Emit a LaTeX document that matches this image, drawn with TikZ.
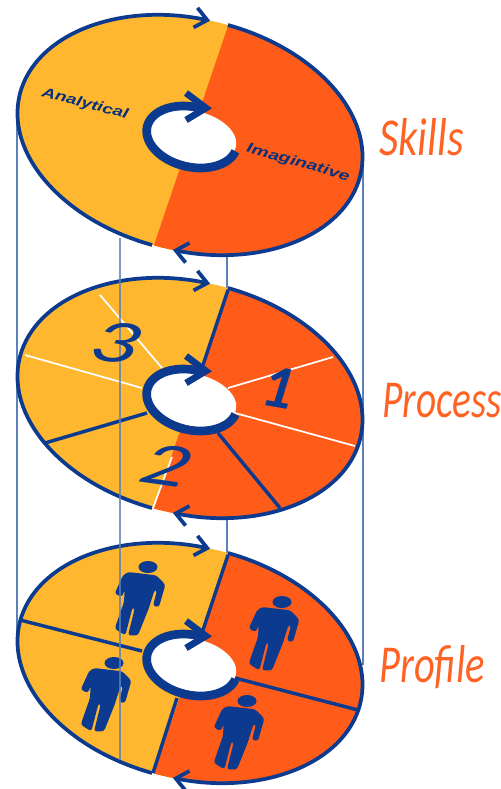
\documentclass[tikz,border=0pt]{standalone}
\usepackage{fontspec}
\usepackage{xcolor}
\usetikzlibrary{arrows.meta, positioning}
\setmainfont{Carlito}
\newfontfamily\labelfont{Liberation Sans}
\definecolor{discblue}{RGB}{11,58,143}
\definecolor{discyellow}{RGB}{254,183,46}
\definecolor{discorange}{RGB}{255,91,25}
\definecolor{guideblue}{RGB}{92,128,184}

\tikzset{
    rimline/.style={draw=discblue, line width=2.8pt, -{Straight Barb[length=9pt, width=15pt, line width=2.8pt]}},
    ringline/.style={draw=discblue, line width=6.5pt},
    ringbarb/.style={draw=discblue, line width=5pt},
    whitesplit/.style={draw=white, line width=1.3pt},
    bluesplit/.style={draw=discblue, line width=2.6pt},
    guide/.style={draw=guideblue, line width=1.5pt},
    title/.style={font=\fontsize{40}{40}\selectfont\itshape, text=discorange!95!white, anchor=west, inner sep=0pt, transform shape, xscale=0.76},
    digit/.style={font=\fontsize{46}{46}\selectfont\itshape, text=discblue, inner sep=0pt, transform shape},
    skillname/.style={font=\labelfont\fontsize{11}{11}\selectfont\bfseries\itshape, text=discblue!85!black, inner sep=0pt, transform shape},
    disc/.pic={
        % Halves
        \fill[discyellow, shift={(190,-135)}, rotate=-13] (0,0) ellipse [x radius=175, y radius=116];
        \begin{scope}
            \clip (231,-17) -- (150,-257) -- (400,-257) -- (400,-17) -- cycle;
            \fill[discorange, shift={(190,-135)}, rotate=-13] (0,0) ellipse [x radius=175, y radius=116];
        \end{scope}
        % Rim
        \draw[rimline, shift={(190,-135)}, rotate=-13] (86:175 and 116) arc [start angle=86, end angle=-87, x radius=175, y radius=116];
        \draw[rimline, shift={(190,-135)}, rotate=-13] (266:175 and 116) arc [start angle=266, end angle=92, x radius=175, y radius=116];
        % Hole
        \fill[white, shift={(193,-137)}, rotate=-13] (0,0) ellipse [x radius=44, y radius=26];
        \draw[ringline, shift={(192,-137)}, rotate=-13] (-8:46 and 30) arc [start angle=-8, end angle=-275, x radius=46, y radius=30];
        \draw[ringbarb] (186,-93) -- (206,-108) -- (186,-120);
    },
    person/.pic={
        \fill[discblue, scale=1/3, rounded corners=2pt] (-60,-15) -- (25,-25) -- (52,-53) -- (33,-120) -- (15,-117) -- (27,-70) -- (20,-68) -- (2,-125) -- (-30,-205) -- (-60,-205) -- (-40,-125) -- (-46,-120) -- (-68,-205) -- (-100,-185) -- (-72,-105) -- (-70,-68) -- (-78,-90) -- (-100,-80) -- (-75,-25) -- cycle;
        \fill[discblue] (0,0) ellipse [x radius=9.5, y radius=6];
    }
}

\begin{document}
\begin{tikzpicture}[x=0.75pt, y=0.75pt]
\useasboundingbox (0,-789) rectangle (500,0);

% Guides behind the discs
\coordinate (guideAtop) at (17,-113);
\coordinate (guideAend) at (17,-640);
\coordinate (guideBtop) at (363,-157);
\coordinate (guideBend) at (363,-665);
\coordinate (guideCtop) at (227,-253);
\coordinate (guideCend) at (227,-556);
\draw[guide] (guideAtop) -- (guideAend);
\draw[guide] (guideBtop) -- (guideBend);
\draw[guide] (guideCtop) -- (guideCend);

% Discs
\pic at (0,0) {disc};
\pic at (0,-263) {disc};
\pic at (0,-528) {disc};

% Process splits
\begin{scope}[yshift=-263*0.75pt]
\coordinate (w1a) at (100,-32);
\coordinate (w1b) at (162,-105);
\coordinate (w2a) at (25,-92);
\coordinate (w2b) at (142,-125);
\coordinate (w3a) at (333,-94);
\coordinate (w3b) at (228,-125);
\coordinate (w4a) at (355,-183);
\coordinate (w4b) at (235,-150);
\coordinate (w5a) at (172,-194);
\coordinate (w5b) at (153,-245);
\coordinate (b1a) at (228,-27);
\coordinate (b1b) at (203,-102);
\coordinate (b2a) at (45,-180);
\coordinate (b2b) at (147,-150);
\coordinate (b3a) at (218,-170);
\coordinate (b3b) at (280,-245);
\draw[whitesplit] (w1a) -- (w1b);
\draw[whitesplit] (w2a) -- (w2b);
\draw[whitesplit] (w3a) -- (w3b);
\draw[whitesplit] (w4a) -- (w4b);
\draw[whitesplit] (w5a) -- (w5b);
\draw[bluesplit] (b1a) -- (b1b);
\draw[bluesplit] (b2a) -- (b2b);
\draw[bluesplit] (b3a) -- (b3b);
\end{scope}

% Profile splits
\begin{scope}[yshift=-528*0.75pt]
\coordinate (p1a) at (228,-27);
\coordinate (p1b) at (203,-102);
\coordinate (p2a) at (20,-92);
\coordinate (p2b) at (142,-123);
\coordinate (p3a) at (235,-150);
\coordinate (p3b) at (358,-182);
\coordinate (p4a) at (177,-170);
\coordinate (p4b) at (153,-245);
\draw[bluesplit] (p1a) -- (p1b);
\draw[bluesplit] (p2a) -- (p2b);
\draw[bluesplit] (p3a) -- (p3b);
\draw[bluesplit] (p4a) -- (p4b);
\end{scope}

% Figures
\pic at (148,-567) {person};
\pic at (282,-602) {person};
\pic at (114,-663) {person};
\pic at (247,-701) {person};

% Guide over the discs
\coordinate (guideDtop) at (120,-238);
\coordinate (guideDend) at (120,-760);
\draw[guide, draw opacity=0.8] (guideDtop) -- (guideDend);

% Labels
\node[skillname, rotate=-15, xscale=1.28, yscale=0.95] (analytical) at (85,-104) {Analytical};
\node[skillname, rotate=-16, xscale=1.32, yscale=0.95] (imaginative) at (298,-163) {Imaginative};
\node[digit, font=\fontsize{46}{46}\selectfont\bfseries\itshape, rotate=-10] (one) at (278,-388) {1};
\node[digit, xscale=1.5, rotate=-12] (two) at (166,-465) {2};
\node[digit, xscale=1.5, rotate=-12] (three) at (115,-342) {3};
\node[title, xscale=1.05] (skills) at (379,-137) {Skills};
\node[title, xscale=0.97] (process) at (382,-401) {Process};
\node[title] (profile) at (379,-667) {Profile};

\end{tikzpicture}
\end{document}
